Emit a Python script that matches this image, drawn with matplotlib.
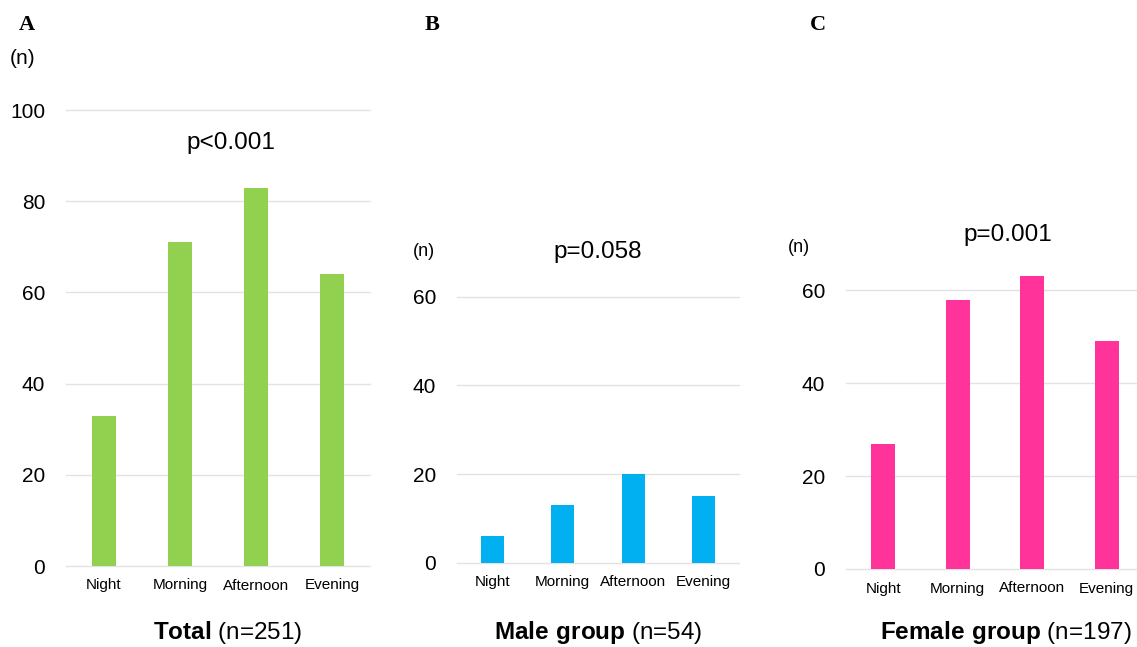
import matplotlib.pyplot as plt

plt.rcParams['font.family'] = ['Liberation Sans', 'DejaVu Sans']
plt.rcParams['mathtext.fontset'] = 'custom'
plt.rcParams['mathtext.rm'] = 'Liberation Sans'
plt.rcParams['mathtext.bf'] = 'Liberation Sans:bold'

# data
periods = ["Night", "Morning", "Afternoon", "Evening"]
total_counts = [33, 71, 83, 64]
male_counts = [6, 13, 20, 15]
female_counts = [27, 58, 63, 49]

GREEN = '#92D050'
BLUE = '#00B0F0'
PINK = '#FF3399'
GRID = '#E3E3E3'

W, H = 1137, 647
fig = plt.figure(figsize=(W / 100, H / 100), dpi=100, facecolor='white')


def px_axes(left, right, bottom, top):
    # axes rectangle given in pixel coordinates of the picture
    return fig.add_axes([left / W, 1 - bottom / H, (right - left) / W, (bottom - top) / H])


def draw_panel(ax, counts, color, ymax, step):
    ax.bar(range(len(periods)), counts, width=0.32, color=color, zorder=3, clip_on=False)
    ax.set_xlim(-0.5, len(periods) - 0.5)
    ax.set_ylim(0, ymax)
    ax.set_yticks(range(0, ymax + 1, step))
    ax.set_xticks(range(len(periods)))
    ax.set_xticklabels(periods, fontsize=11)
    ax.tick_params(axis='y', length=0, pad=15, labelsize=15)
    ax.tick_params(axis='x', length=0, pad=9)
    ax.yaxis.grid(True, color=GRID, linewidth=1.0, clip_on=False)
    ax.set_axisbelow(True)
    for s in ax.spines.values():
        s.set_visible(False)


axA = px_axes(66, 370, 566, 110)
draw_panel(axA, total_counts, GREEN, 100, 20)
axB = px_axes(457, 739, 562.7, 296.7)
draw_panel(axB, male_counts, BLUE, 60, 20)
axC = px_axes(846, 1144, 569, 290.3)
draw_panel(axC, female_counts, PINK, 60, 20)


def ftext(x, y, s, **kw):
    fig.text(x / W, 1 - y / H, s, ha='center', va='center', **kw)


# panel letters
for x, letter in [(27, 'A'), (432, 'B'), (818, 'C')]:
    ftext(x, 25, letter, fontsize=16, fontweight='bold', family='Liberation Serif')

# unit labels
ftext(23, 58, '(n)', fontsize=15)
ftext(424, 251, '(n)', fontsize=13)
ftext(799, 247, '(n)', fontsize=13)

# p values
ftext(231, 143, 'p<0.001', fontsize=17.5)
ftext(598, 252, 'p=0.058', fontsize=17.5)
ftext(1008, 235, 'p=0.001', fontsize=17.5)

# group titles
ftext(228, 632, r'$\mathbf{Total}$ (n=251)', fontsize=17.5)
ftext(598, 632, r'$\mathbf{Male\ group}$ (n=54)', fontsize=17.5)
ftext(1006, 632, r'$\mathbf{Female\ group}$ (n=197)', fontsize=17.5)

plt.savefig('out.png', dpi=100, facecolor='white')
